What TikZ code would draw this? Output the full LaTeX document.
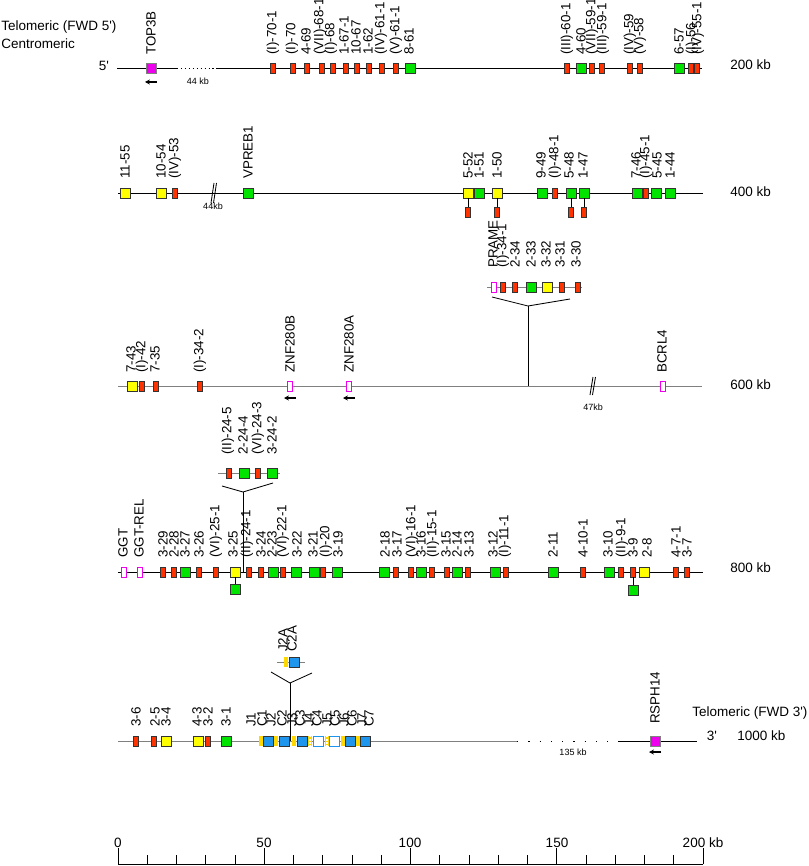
\documentclass[tikz,border=0pt]{standalone}
\usepackage{fontspec}
\setmainfont{Liberation Sans}
\usepackage{xcolor}
\usepackage{tikz}
\usetikzlibrary{arrows.meta}
\definecolor{fcolor}{HTML}{00E400}
\definecolor{ocolor}{HTML}{FFFF00}
\definecolor{pcolor}{HTML}{FF3300}
\definecolor{ncolor}{HTML}{EE00EE}
\definecolor{ccolor}{HTML}{1E96EE}
\definecolor{jcolor}{HTML}{FFD800}
\tikzset{
  genelab/.style={rotate=90, anchor=west, inner sep=0pt, font=\fontsize{9.5}{11}\selectfont},
  vgene/.style={draw=black!80, line width=0.5pt, rectangle, minimum width=0.25cm, minimum height=0.25cm, inner sep=0pt},
  fgene/.style={vgene, fill=fcolor},
  ogene/.style={vgene, fill=ocolor},
  pgene/.style={vgene, minimum width=0.125cm, fill=pcolor},
  ngene/.style={rectangle, draw=ncolor, line width=0.7pt, fill=white, minimum width=0.125cm, minimum height=0.25cm, inner sep=0pt},
  mgene/.style={vgene, draw=black!50, fill=ncolor},
  cgene/.style={vgene, fill=ccolor},
  cpgene/.style={vgene, draw=ccolor, fill=white},
  jgene/.style={rectangle, minimum width=0.09cm, minimum height=0.25cm, inner sep=0pt, fill=jcolor},
  jpgene/.style={jgene, path picture={\draw[white, line width=1pt, dash pattern=on 1pt off 1.2pt] (path picture bounding box.north) -- (path picture bounding box.south);}},
  chrom/.style={line width=0.6pt},
  chromgray/.style={line width=0.6pt, draw=black!50},
  strand/.style={-{Stealth[length=3.5pt, width=3.5pt]}, line width=0.8pt},
  bigtxt/.style={inner sep=0pt, font=\fontsize{9.6}{11}\selectfont},
  smalltxt/.style={inner sep=0pt, font=\fontsize{6.4}{7}\selectfont},
}

\begin{document}
\begin{tikzpicture}[x=0.025cm, y=-0.025cm]%
\useasboundingbox (0,0) rectangle (808,866);%
% titles
\node[bigtxt, anchor=west] (telo5) at (1,27) {Telomeric (FWD 5\textquotesingle)};%
\node[bigtxt, anchor=west] (centro) at (1,44) {Centromeric};%
\node[bigtxt] (five) at (104,66) {5\textquotesingle};%
\node[bigtxt, anchor=west] (kb200) at (730,65) {200 kb};%
\node[bigtxt, anchor=west] (kb400) at (730,192) {400 kb};%
\node[bigtxt, anchor=west] (kb600) at (730,385) {600 kb};%
\node[bigtxt, anchor=west] (kb800) at (730,568) {800 kb};%
\node[bigtxt, anchor=west] (telo3) at (692,713) {Telomeric (FWD 3\textquotesingle)};%
\node[bigtxt] (three) at (712,736) {3\textquotesingle};%
\node[bigtxt, anchor=west] (kb1000) at (737,736) {1000 kb};%
% row 1
\draw[chrom] (117,68) -- (177,68);%
\draw[chrom, dash pattern=on 0.8pt off 2pt] (177,68) -- (218,68);%
\draw[chrom] (218,68) -- (702,68);%
\node[smalltxt] (gap44a) at (198,81) {44 kb};%
\node[mgene] (a1) at (151,68) {};%
\node[pgene] (a2) at (273,68) {};%
\node[pgene] (a3) at (293,68) {};%
\node[pgene] (a4) at (307,68) {};%
\node[pgene] (a5) at (322,68) {};%
\node[pgene] (a6) at (333,68) {};%
\node[pgene] (a7) at (346,68) {};%
\node[pgene] (a8) at (357,68) {};%
\node[pgene] (a9) at (369,68) {};%
\node[pgene] (a10) at (382,68) {};%
\node[pgene] (a11) at (396,68) {};%
\node[fgene] (a12) at (410,68) {};%
\node[pgene] (a13) at (567,68) {};%
\node[fgene] (a14) at (581,68) {};%
\node[pgene] (a15) at (592,68) {};%
\node[pgene] (a16) at (602,68) {};%
\node[pgene] (a17) at (630,68) {};%
\node[pgene] (a18) at (640,68) {};%
\node[fgene] (a19) at (679,68) {};%
\node[pgene] (a20) at (691,68) {};%
\node[pgene] (a21) at (697,68) {};%
\draw[strand] ([shift={(6,14)}]a1.center) -- ([shift={(-6,14)}]a1.center);%
\node[genelab] (la1) at (151,55) {TOP3B};%
\node[genelab] (la2) at (273,55) {(I)-70-1};%
\node[genelab] (la3) at (292,55) {(I)-70};%
\node[genelab] (la4) at (306,55) {4-69};%
\node[genelab] (la5) at (320,55) {(VII)-68-1};%
\node[genelab] (la6) at (331,55) {(I)-68};%
\node[genelab] (la7) at (344,55) {1-67-1};%
\node[genelab] (la8) at (356,55) {10-67};%
\node[genelab] (la9) at (368,55) {1-62};%
\node[genelab] (la10) at (381,55) {(IV)-61-1};%
\node[genelab] (la11) at (396,55) {(V)-61-1};%
\node[genelab] (la12) at (409,55) {8-61};%
\node[genelab] (la13) at (567,55) {(III)-60-1};%
\node[genelab] (la14) at (581,55) {4-60};%
\node[genelab] (la15) at (592,55) {(VII)-59-1};%
\node[genelab] (la16) at (603,55) {(III)-59-1};%
\node[genelab] (la17) at (630,55) {(IV)-59};%
\node[genelab] (la18) at (640,55) {(V)-58};%
\node[genelab] (la19) at (679,55) {6-57};%
\node[genelab] (la20) at (692,55) {(I)-56};%
\node[genelab] (la21) at (698,55) {(IV)-55-1};%
% row 2
\draw[chrom] (118,193) -- (703,193);%
\draw[chrom] (211,203) -- (214,183);%
\draw[chrom] (213.5,203) -- (216.5,183);%
\node[smalltxt] (gap44b) at (213,206) {44kb};%
\node[ogene] (b1) at (125,193) {};%
\node[ogene] (b2) at (161,193) {};%
\node[pgene] (b3) at (175,193) {};%
\node[fgene] (b4) at (248,193) {};%
\node[ogene] (b5) at (468,193) {};%
\node[fgene] (b6) at (479,193) {};%
\node[ogene] (b7) at (497,193) {};%
\node[fgene] (b8) at (542,193) {};%
\node[pgene] (b9) at (555,193) {};%
\node[fgene] (b10) at (571,193) {};%
\node[fgene] (b11) at (584,193) {};%
\node[fgene] (b12) at (637,193) {};%
\node[pgene] (b13) at (646,193) {};%
\node[fgene] (b14) at (656,193) {};%
\node[fgene] (b15) at (670,193) {};%
\node[pgene] (b5h) at (468,212) {};%
\node[pgene] (b7h) at (497,212) {};%
\node[pgene] (b10h) at (571,212) {};%
\node[pgene] (b11h) at (584,212) {};%
\draw[chrom] (b5) -- (b5h);%
\draw[chrom] (b7) -- (b7h);%
\draw[chrom] (b10) -- (b10h);%
\draw[chrom] (b11) -- (b11h);%
\node[genelab] (lb1) at (125,179) {11-55};%
\node[genelab] (lb2) at (161,179) {10-54};%
\node[genelab] (lb3) at (175,179) {(IV)-53};%
\node[genelab] (lb4) at (248,179) {VPREB1};%
\node[genelab] (lb5) at (468,179) {5-52};%
\node[genelab] (lb6) at (479,179) {1-51};%
\node[genelab] (lb7) at (497,179) {1-50};%
\node[genelab] (lb8) at (541,179) {9-49};%
\node[genelab] (lb9) at (555,179) {(I)-48-1};%
\node[genelab] (lb10) at (569,179) {5-48};%
\node[genelab] (lb11) at (583,179) {1-47};%
\node[genelab] (lb12) at (636,179) {7-46};%
\node[genelab] (lb13) at (646,179) {(I)-45-1};%
\node[genelab] (lb14) at (657,179) {5-45};%
\node[genelab] (lb15) at (670,179) {1-44};%
% PRAME insert
\draw[chromgray] (487,287) -- (582,287);%
\node[ngene] (c1) at (493.5,287) {};%
\node[pgene] (c2) at (503,287) {};%
\node[pgene] (c3) at (515,287) {};%
\node[fgene] (c4) at (531,287) {};%
\node[ogene] (c5) at (547,287) {};%
\node[pgene] (c6) at (562,287) {};%
\node[pgene] (c7) at (578,287) {};%
\node[genelab] (lc1) at (493,268) {PRAME};%
\node[genelab] (lc2) at (503,268) {(I)-34-1};%
\node[genelab] (lc3) at (515,268) {2-34};%
\node[genelab] (lc4) at (531,268) {2-33};%
\node[genelab] (lc5) at (546,268) {3-32};%
\node[genelab] (lc6) at (560,268) {3-31};%
\node[genelab] (lc7) at (576,268) {3-30};%
\coordinate (capex) at (528,306);%
\coordinate (cfoot) at (528,386);%
\draw[chrom] (492,297) -- (capex) -- (570,299);%
\draw[chrom] (capex) -- (cfoot);%
% row 3
\draw[chromgray] (118,386) -- (702,386);%
\draw[chrom] (590,395) -- (593,377);%
\draw[chrom] (592.5,395) -- (595.5,377);%
\node[smalltxt] (gap47) at (593,407) {47kb};%
\node[ogene] (d1) at (132,386) {};%
\node[pgene] (d2) at (142,386) {};%
\node[pgene] (d3) at (156,386) {};%
\node[pgene] (d4) at (200,386) {};%
\node[ngene] (d5) at (290,386) {};%
\node[ngene] (d6) at (349,386) {};%
\node[ngene] (d7) at (663,386) {};%
\draw[strand] ([shift={(6,12)}]d5.center) -- ([shift={(-6,12)}]d5.center);%
\draw[strand] ([shift={(6,12)}]d6.center) -- ([shift={(-6,12)}]d6.center);%
\node[genelab] (ld1) at (131,373) {7-43};%
\node[genelab] (ld2) at (142,373) {(I)-42};%
\node[genelab] (ld3) at (155,373) {7-35};%
\node[genelab] (ld4) at (200,373) {(I)-34-2};%
\node[genelab] (ld5) at (290,373) {ZNF280B};%
\node[genelab] (ld6) at (349,373) {ZNF280A};%
\node[genelab] (ld7) at (662,373) {BCRL4};%
% row 4 insert
\draw[chromgray] (218,473) -- (280,473);%
\node[pgene] (e1) at (229,473) {};%
\node[fgene] (e2) at (244,473) {};%
\node[pgene] (e3) at (258,473) {};%
\node[fgene] (e4) at (272,473) {};%
\node[genelab] (le1) at (228,455) {(II)-24-5};%
\node[genelab] (le2) at (243,455) {2-24-4};%
\node[genelab] (le3) at (258,455) {(VI)-24-3};%
\node[genelab] (le4) at (272,455) {3-24-2};%
\coordinate (eapex) at (243,492);%
\coordinate (efoot) at (243,572);%
\draw[chrom] (222,486) -- (eapex) -- (273,483);%
\draw[chrom] (eapex) -- (efoot);%
% row 4
\draw[chrom] (118,572) -- (703,572);%
\node[ngene] (f1) at (124,572) {};%
\node[ngene] (f2) at (139.5,572) {};%
\node[pgene] (f3) at (163,572) {};%
\node[pgene] (f4) at (174,572) {};%
\node[fgene] (f5) at (185,572) {};%
\node[pgene] (f6) at (199,572) {};%
\node[pgene] (f7) at (216,572) {};%
\node[ogene] (f8) at (235,572) {};%
\node[pgene] (f9) at (249,572) {};%
\node[pgene] (f10) at (261,572) {};%
\node[fgene] (f11) at (273,572) {};%
\node[pgene] (f12) at (283,572) {};%
\node[fgene] (f13) at (296,572) {};%
\node[fgene] (f14) at (314,572) {};%
\node[pgene] (f15) at (323,572) {};%
\node[fgene] (f16) at (337,572) {};%
\node[fgene] (f17) at (384,572) {};%
\node[pgene] (f18) at (396,572) {};%
\node[pgene] (f19) at (411,572) {};%
\node[fgene] (f20) at (421,572) {};%
\node[pgene] (f21) at (432,572) {};%
\node[pgene] (f22) at (447,572) {};%
\node[fgene] (f23) at (457,572) {};%
\node[pgene] (f24) at (468,572) {};%
\node[fgene] (f25) at (495,572) {};%
\node[pgene] (f26) at (506,572) {};%
\node[fgene] (f27) at (553,572) {};%
\node[pgene] (f28) at (583,572) {};%
\node[fgene] (f29) at (609,572) {};%
\node[pgene] (f30) at (621,572) {};%
\node[pgene] (f31) at (633,572) {};%
\node[ogene] (f32) at (644,572) {};%
\node[pgene] (f33) at (676,572) {};%
\node[pgene] (f34) at (687,572) {};%
\node[fgene] (f8h) at (235,589) {};%
\node[fgene] (f31h) at (633,590) {};%
\draw[chrom] (f8) -- (f8h);%
\draw[chrom] (f31) -- (f31h);%
\node[genelab] (lf1) at (123,558) {GGT};%
\node[genelab] (lf2) at (139,558) {GGT-REL};%
\node[genelab] (lf3) at (163,558) {3-29};%
\node[genelab] (lf4) at (174,558) {2-28};%
\node[genelab] (lf5) at (185,558) {3-27};%
\node[genelab] (lf6) at (199,558) {3-26};%
\node[genelab] (lf7) at (216,558) {(VI)-25-1};%
\node[genelab] (lf8) at (233,558) {3-25};%
\node[genelab] (lf9) at (247,558) {(II)-24-1};%
\node[genelab] (lf10) at (261,558) {3-24};%
\node[genelab] (lf11) at (272,558) {2-23};%
\node[genelab] (lf12) at (283,558) {(VI)-22-1};%
\node[genelab] (lf13) at (297,558) {3-22};%
\node[genelab] (lf14) at (313,558) {3-21};%
\node[genelab] (lf15) at (326,558) {(I)-20};%
\node[genelab] (lf16) at (338,558) {3-19};%
\node[genelab] (lf17) at (385,558) {2-18};%
\node[genelab] (lf18) at (397,558) {3-17};%
\node[genelab] (lf19) at (412,558) {(VI)-16-1};%
\node[genelab] (lf20) at (421,558) {3-16};%
\node[genelab] (lf21) at (433,558) {(II)-15-1};%
\node[genelab] (lf22) at (446,558) {3-15};%
\node[genelab] (lf23) at (457,558) {2-14};%
\node[genelab] (lf24) at (469,558) {3-13};%
\node[genelab] (lf25) at (493,558) {3-12};%
\node[genelab] (lf26) at (505,558) {(I)-11-1};%
\node[genelab] (lf27) at (553,558) {2-11};%
\node[genelab] (lf28) at (583,558) {4-10-1};%
\node[genelab] (lf29) at (608,558) {3-10};%
\node[genelab] (lf30) at (622,558) {(II)-9-1};%
\node[genelab] (lf31) at (633,558) {3-9};%
\node[genelab] (lf32) at (647,558) {2-8};%
\node[genelab] (lf33) at (676,558) {4-7-1};%
\node[genelab] (lf34) at (687,558) {3-7};%
% row 5 insert
\draw[chromgray] (277,662) -- (305,662);%
\node[jgene] (g1) at (286,662) {};%
\node[cgene] (g2) at (294,662) {};%
\node[genelab] (lg1) at (283,652) {J2A};%
\node[genelab] (lg2) at (292,652) {C2A};%
\coordinate (gapex) at (290,683);%
\coordinate (gfoot) at (290,741);%
\draw[chrom] (271,672) -- (gapex) -- (312,673);%
\draw[chrom] (gapex) -- (gfoot);%
% row 5
\draw[chromgray] (118,741) -- (517,741);%
\draw[chrom, dash pattern=on 1pt off 7pt] (517,741) -- (618,741);%
\draw[chrom] (618,741) -- (697,741);%
\node[smalltxt] (gap135) at (573,752) {135 kb};%
\node[pgene] (h1) at (136,741) {};%
\node[pgene] (h2) at (154,741) {};%
\node[ogene] (h3) at (166,741) {};%
\node[ogene] (h4) at (198,741) {};%
\node[pgene] (h5) at (208,741) {};%
\node[fgene] (h6) at (226,741) {};%
\node[jgene] (h7) at (261,741) {};%
\node[cgene] (h8) at (268,741) {};%
\node[jgene] (h9) at (276,741) {};%
\node[cgene] (h10) at (284,741) {};%
\node[jgene] (h11) at (294,741) {};%
\node[cgene] (h12) at (302,741) {};%
\node[jpgene] (h13) at (310,741) {};%
\node[cpgene] (h14) at (318,741) {};%
\node[jpgene] (h15) at (327,741) {};%
\node[cpgene] (h16) at (334,741) {};%
\node[jgene] (h17) at (343,741) {};%
\node[cgene] (h18) at (350,741) {};%
\node[jgene] (h19) at (358,741) {};%
\node[cgene] (h20) at (365,741) {};%
\node[mgene] (h21) at (655,741) {};%
\draw[strand] ([shift={(6,11)}]h21.center) -- ([shift={(-6,11)}]h21.center);%
\node[genelab] (lh1) at (136,727) {3-6};%
\node[genelab] (lh2) at (155,727) {2-5};%
\node[genelab] (lh3) at (166,727) {3-4};%
\node[genelab] (lh4) at (197,727) {4-3};%
\node[genelab] (lh5) at (208,727) {3-2};%
\node[genelab] (lh6) at (226,727) {3-1};%
\node[genelab] (lh7) at (251,727) {J1};%
\node[genelab] (lh8) at (262,727) {C1};%
\node[genelab] (lh9) at (271,727) {J2};%
\node[genelab] (lh10) at (282,727) {C2};%
\node[genelab] (lh11) at (292,727) {J3};%
\node[genelab] (lh12) at (300,727) {C3};%
\node[genelab] (lh13) at (309,727) {J4};%
\node[genelab] (lh14) at (317,727) {C4};%
\node[genelab] (lh15) at (327,727) {J5};%
\node[genelab] (lh16) at (335,727) {C5};%
\node[genelab] (lh17) at (344,727) {J6};%
\node[genelab] (lh18) at (352,727) {C6};%
\node[genelab] (lh19) at (362,727) {J7};%
\node[genelab] (lh20) at (369,727) {C7};%
\node[genelab] (lh21) at (655,724) {RSPH14};%
% scale
\draw[chrom] (118,864) -- (703,864);%
\foreach \k in {0,...,20} \draw[chrom] ({118+29.25*\k},864) -- ({118+29.25*\k},855);%
\foreach \k in {0,5,...,20} \draw[chrom] ({118+29.25*\k},864) -- ({118+29.25*\k},848);%
\node[bigtxt] (s0) at (118,843) {0};%
\node[bigtxt] (s50) at (264,843) {50};%
\node[bigtxt] (s100) at (410,843) {100};%
\node[bigtxt] (s150) at (557,843) {150};%
\node[bigtxt] (s200) at (703,843) {200 kb};%
\end{tikzpicture}
\end{document}
